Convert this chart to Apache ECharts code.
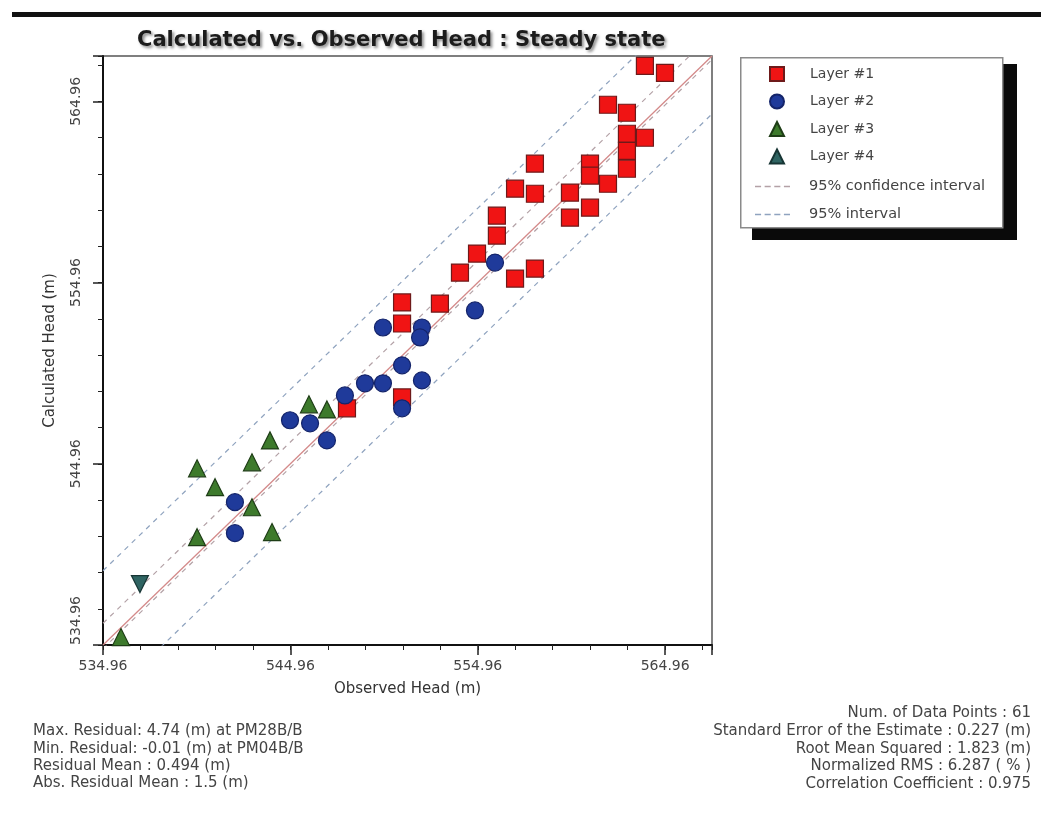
<!DOCTYPE html>
<html>
<head>
<meta charset="utf-8">
<title>Calculated vs. Observed Head</title>
<script src="https://cdn.jsdelivr.net/npm/echarts@6/dist/echarts.min.js"></script>
<style>
  html, body { margin: 0; padding: 0; background: #ffffff; }
  #headChart { width: 1041px; height: 820px; }
</style>
</head>
<body>
<div id="headChart"></div>
<script>
/*** data ***/
var axisMin = 534.96;
var axisMax = 567.46;
var tickLabels = ['534.96', '544.96', '554.96', '564.96'];

// Layer #1 (squares)
var layer1Obs  = [563.88, 564.95, 561.91, 562.92, 562.92, 563.88, 562.92, 562.92, 560.95, 558.01,
                  556.95, 558.01, 560.95, 559.88, 561.91, 560.95, 559.88, 555.98, 555.98, 554.92,
                  554.01, 556.95, 558.01, 550.92, 552.94, 550.92, 550.92, 547.98];
var layer1Calc = [566.92, 566.53, 564.77, 564.33, 563.17, 562.95, 562.23, 561.24, 561.52, 561.52,
                  560.14, 559.86, 560.86, 559.92, 560.41, 559.09, 558.54, 558.65, 557.55, 556.56,
                  555.51, 555.18, 555.73, 553.86, 553.80, 552.70, 548.62, 548.02];
// Layer #2 (circles)
var layer2Obs  = [555.88, 554.81, 549.90, 551.98, 551.88, 550.92, 548.94, 549.90, 551.98, 547.87,
                  550.92, 544.94, 546.01, 546.91, 542.00, 542.00];
var layer2Calc = [556.06, 553.42, 552.48, 552.48, 551.93, 550.39, 549.40, 549.40, 549.56, 548.73,
                  548.02, 547.36, 547.19, 546.25, 542.84, 541.13];
// Layer #3 (triangles)
var layer3Obs  = [539.98, 540.94, 542.91, 543.87, 539.98, 542.91, 543.98, 545.95, 546.91, 535.92];
var layer3Calc = [544.71, 543.67, 545.04, 546.25, 540.91, 542.56, 541.19, 548.24, 547.96, 535.40];
// Layer #4 (down triangle)
var layer4Obs  = [536.93];
var layer4Calc = [538.32];

// band offsets from the 1:1 line (upper, lower)
var confidenceOffsets = [1.2, -0.2];
var intervalOffsets = [4.1, -3.2];

var leftStats = [
  'Max. Residual: 4.74 (m) at PM28B/B',
  'Min. Residual: -0.01 (m) at PM04B/B',
  'Residual Mean : 0.494 (m)',
  'Abs. Residual Mean : 1.5 (m)'
];
var rightStats = [
  'Num. of Data Points : 61',
  'Standard Error of the Estimate : 0.227 (m)',
  'Root Mean Squared : 1.823 (m)',
  'Normalized RMS : 6.287 ( % )',
  'Correlation Coefficient : 0.975'
];

/*** helpers ***/
function pairs(xs, ys) {
  return xs.map(function (x, i) { return [x, ys[i]]; });
}
function offsetLine(off) {
  return [[axisMin, axisMin + off], [axisMax, axisMax + off]];
}
function majorLabel(v) {
  var s = v.toFixed(2);
  return tickLabels.indexOf(s) >= 0 ? s : '';
}

var FONT = '"DejaVu Sans", Verdana, sans-serif';
var CONF_COLOR = '#b3a1a6';
var INT_COLOR = '#8fa3bf';
// short dashes for the legend line icons
var DASH_ICON = 'path://M0,0h6v1.6h-6z M9.5,0h6v1.6h-6z M19,0h6v1.6h-6z M28.5,0h6v1.6h-6z';

var chart = echarts.init(document.getElementById('headChart'));

// dashed band lines
var bandSeries = [];
confidenceOffsets.forEach(function (off) {
  bandSeries.push({
    name: '95% confidence interval', type: 'line', symbol: 'none', silent: true,
    data: offsetLine(off),
    itemStyle: { color: CONF_COLOR },
    lineStyle: { color: CONF_COLOR, width: 1.2, type: [5, 5] }
  });
});
intervalOffsets.forEach(function (off) {
  bandSeries.push({
    name: '95% interval', type: 'line', symbol: 'none', silent: true,
    data: offsetLine(off),
    itemStyle: { color: INT_COLOR },
    lineStyle: { color: INT_COLOR, width: 1.2, type: [5, 5] }
  });
});

var scatterBase = { type: 'scatter', symbolSize: 17, z: 5 };

var option = {
  backgroundColor: '#ffffff',
  animation: false,
  title: {
    text: 'Calculated vs. Observed Head : Steady state',
    left: 137, top: 30, padding: 0,
    textStyle: {
      fontFamily: FONT, fontSize: 21, fontWeight: 'bold', color: '#1c1c1c',
      textShadowColor: 'rgba(0,0,0,0.45)', textShadowBlur: 3,
      textShadowOffsetX: 2, textShadowOffsetY: 2
    }
  },
  legend: [{
    orient: 'vertical', left: 769, top: 66, padding: 0,
    itemWidth: 14, itemHeight: 14, itemGap: 11.5,
    data: ['Layer #1', 'Layer #2', 'Layer #3', 'Layer #4'],
    textStyle: { fontFamily: FONT, fontSize: 14, lineHeight: 14, color: '#444', padding: [0, 0, 0, 21] },
    z: 10
  }, {
    orient: 'vertical', left: 755, top: 179, padding: 0,
    itemWidth: 35, itemHeight: 2, itemGap: 13,
    icon: DASH_ICON,
    data: ['95% confidence interval', '95% interval'],
    textStyle: { fontFamily: FONT, fontSize: 14.5, lineHeight: 14, color: '#444', padding: [0, 0, 0, 14] },
    z: 10
  }],
  grid: {
    left: 103, top: 56, width: 609, height: 589,
    show: true, borderColor: '#555', borderWidth: 1.5, backgroundColor: '#ffffff'
  },
  xAxis: [{
    type: 'value', min: axisMin, max: axisMax, interval: 2, position: 'bottom',
    name: 'Observed Head (m)', nameLocation: 'middle', nameGap: 37,
    nameTextStyle: { fontFamily: FONT, fontSize: 15, color: '#333' },
    axisLine: { onZero: false, lineStyle: { color: '#111', width: 2 } },
    axisTick: { length: 5, lineStyle: { color: '#222' } },
    axisLabel: { formatter: majorLabel, margin: 14, fontFamily: FONT, fontSize: 14, color: '#444' },
    splitLine: { show: false }
  }, {
    type: 'value', min: axisMin, max: axisMax, interval: 10, position: 'bottom',
    axisLine: { show: false, onZero: false },
    axisTick: { length: 10, lineStyle: { color: '#222', width: 1.5 } },
    axisLabel: { show: false },
    splitLine: { show: false }
  }],
  yAxis: [{
    type: 'value', min: axisMin, max: axisMax, interval: 2, position: 'left',
    name: 'Calculated Head (m)', nameLocation: 'middle', nameGap: 45,
    nameTextStyle: { fontFamily: FONT, fontSize: 15, color: '#333' },
    axisLine: { onZero: false, lineStyle: { color: '#111', width: 2 } },
    axisTick: { length: 5, lineStyle: { color: '#222' } },
    axisLabel: {
      formatter: majorLabel, rotate: 90, margin: 20, alignMinLabel: 'left',
      fontFamily: FONT, fontSize: 14, color: '#444'
    },
    splitLine: { show: false }
  }, {
    type: 'value', min: axisMin, max: axisMax, interval: 10, position: 'left',
    axisLine: { show: false, onZero: false },
    axisTick: { length: 10, lineStyle: { color: '#222', width: 1.5 } },
    axisLabel: { show: false },
    splitLine: { show: false }
  }],
  series: bandSeries.concat([
    {
      type: 'line', symbol: 'none', silent: true,
      data: offsetLine(0),
      lineStyle: { color: '#d48a8a', width: 1.3 }
    },
    echarts.util.extend({
      name: 'Layer #1', symbol: 'rect', data: pairs(layer1Obs, layer1Calc),
      itemStyle: { color: '#f01414', borderColor: '#6e1a1a', borderWidth: 1.2, opacity: 1 }
    }, scatterBase),
    echarts.util.extend({
      name: 'Layer #2', symbol: 'circle', data: pairs(layer2Obs, layer2Calc),
      itemStyle: { color: '#1f3a9a', borderColor: '#14246a', borderWidth: 1.2, opacity: 1 }
    }, scatterBase),
    echarts.util.extend({
      name: 'Layer #3', symbol: 'triangle', symbolSize: 18, data: pairs(layer3Obs, layer3Calc),
      itemStyle: { color: '#3d7a2c', borderColor: '#1e3d16', borderWidth: 1.2, opacity: 1 }
    }, scatterBase),
    echarts.util.extend({
      name: 'Layer #4', symbol: 'triangle', symbolSize: 18, symbolRotate: 180, data: pairs(layer4Obs, layer4Calc),
      itemStyle: { color: '#2f6462', borderColor: '#173534', borderWidth: 1.2, opacity: 1 }
    }, scatterBase)
  ]),
  graphic: [
    // heavy rule along the top
    { type: 'rect', left: 12, top: 12, z: 1, shape: { width: 1029, height: 5 }, style: { fill: '#111' } },
    // legend shadow + box
    { type: 'rect', left: 752, top: 64, z: 1, shape: { width: 265, height: 176 }, style: { fill: '#0a0a0a' } },
    { type: 'rect', left: 740, top: 57, z: 2, shape: { width: 262, height: 170 }, style: { fill: '#ffffff', stroke: '#8a8a8a', lineWidth: 1.5 } },
    {
      type: 'group', left: 33, top: 724, z: 3,
      children: leftStats.map(function (t, i) {
        return { type: 'text', top: i * 17.3, style: { text: t, font: '15px ' + FONT, fill: '#444' } };
      })
    },
    {
      type: 'group', right: 10, top: 706, z: 3,
      children: rightStats.map(function (t, i) {
        return { type: 'text', right: 0, top: i * 17.6, style: { text: t, font: '15px ' + FONT, fill: '#444', align: 'right' } };
      })
    }
  ]
};

chart.setOption(option);
</script>
</body>
</html>
